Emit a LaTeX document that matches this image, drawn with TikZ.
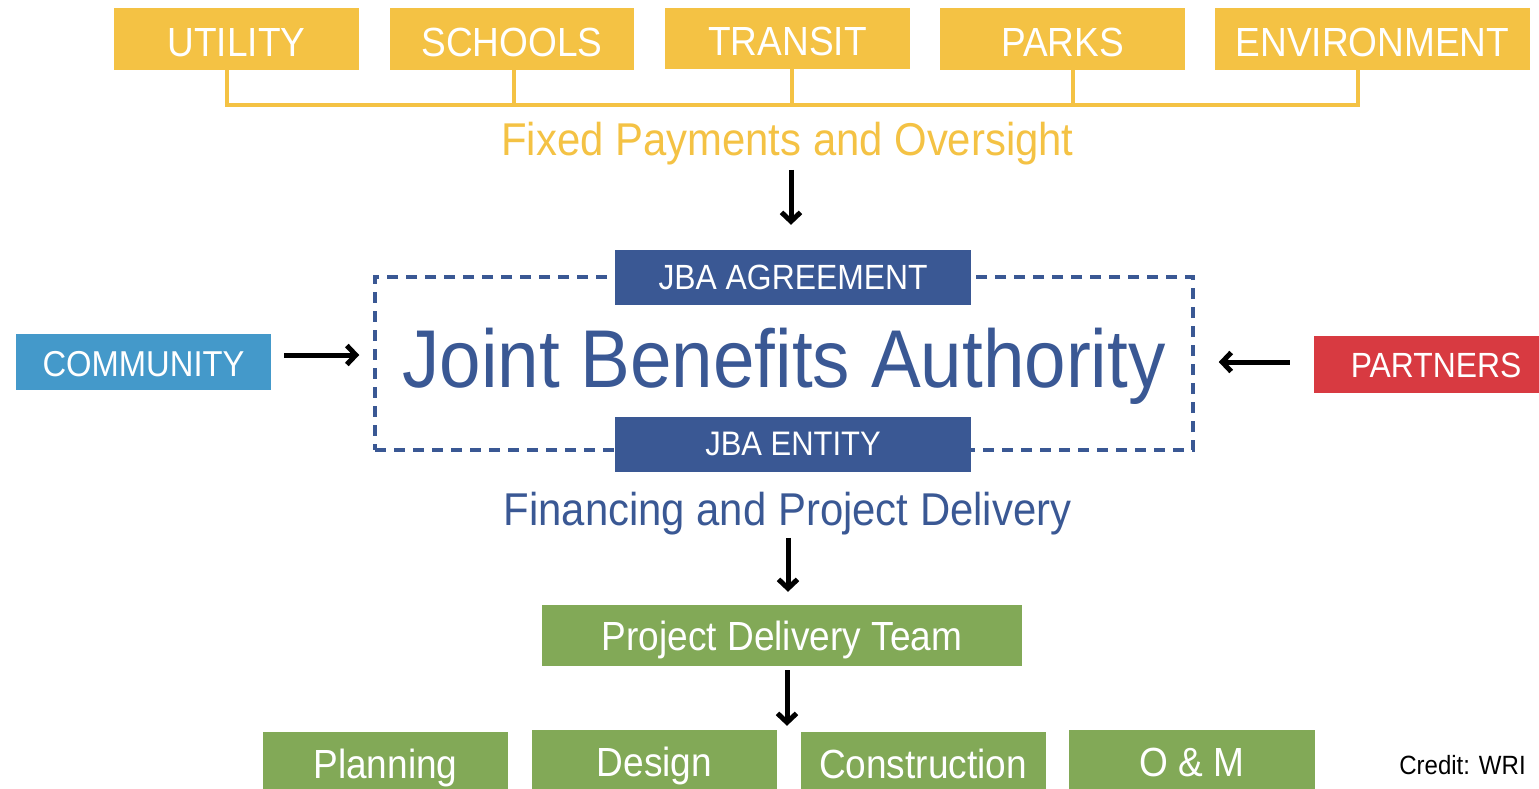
\documentclass[tikz,border=0pt]{standalone}
\usepackage{fontspec}
\setmainfont{Liberation Sans}[FakeStretch=0.91]
\usetikzlibrary{arrows.meta}
\definecolor{ylw}{HTML}{F4C244}
\definecolor{jblue}{HTML}{3A5894}
\definecolor{cblue}{HTML}{4499CA}
\definecolor{pred}{HTML}{D83A41}
\definecolor{grn}{HTML}{82A957}
\begin{document}
\begin{tikzpicture}[x=1pt,y=-1pt,
  box/.style={rectangle, inner sep=0pt, text=white, text depth=0pt, align=center},
  topbox/.style={box, fill=ylw, minimum width=245, minimum height=62, text height=34pt, font=\fontsize{40.7}{48}\selectfont},
  jbabox/.style={box, fill=jblue, minimum width=356, minimum height=55},
  sidebox/.style={box, minimum height=56},
  greenbox/.style={box, fill=grn, minimum width=245, minimum height=65, text height=27pt, font=\fontsize{40.7}{48}\selectfont},
  bracket/.style={draw=ylw, line width=3.5pt},
  arr/.style={-{Straight Barb[length=9pt,width=19pt]}, line width=5pt, black},
  caption/.style={inner sep=0pt, anchor=base, font=\fontsize{46}{55}\selectfont}
]
\useasboundingbox (0,0) rectangle (1539,788);
\clip (0,0) rectangle (1539,788);

% top boxes
\node[topbox] (u) at (236.5,39) {UTILITY};
\node[topbox, minimum width=244] (s) at (512,39) {SCHOOLS};
\node[topbox, minimum height=61] (t) at (787.5,38.5) {TRANSIT};
\node[topbox] (p) at (1062.5,39) {PARKS};
\node[topbox, minimum width=315] (e) at (1372.5,39) {ENVIRONMENT};

% bracket
\coordinate (bus) at (0,105);
\draw[bracket] ([xshift=-9.5]u.south) |- ([xshift=-14.5]e.south |- bus) -- ([xshift=-14.5]e.south);
\draw[bracket] ([xshift=2]s.south) -- ([xshift=2]s.south |- bus);
\draw[bracket] ([xshift=4.5]t.south) -- ([xshift=4.5]t.south |- bus);
\draw[bracket] ([xshift=10.5]p.south) -- ([xshift=10.5]p.south |- bus);

\node[caption, text=ylw] (fixed) at (787.5,155) {Fixed Payments and Oversight};

% JBA frame
\node[draw=jblue, line width=3.5pt, dash pattern=on 11pt off 8pt, inner sep=0pt,
      minimum width=818, minimum height=173, text=jblue,
      font=\fontsize{82}{98}\selectfont, text height=47pt, text depth=0pt] (jba) at (784,363.5) {Joint Benefits Authority};
\node[jbabox, text height=24pt, font=\fontsize{35}{42}\selectfont] (jbaag) at (793,277.5) {JBA AGREEMENT};
\node[jbabox, text height=22pt, font=\fontsize{34}{41}\selectfont] (jbaen) at (793,444.5) {JBA ENTITY};

\draw[arr, shorten <=5pt, shorten >=25pt] ([xshift=-2]jbaag.north |- fixed.south) -- ([xshift=-2]jbaag.north);

% side boxes
\node[sidebox, fill=cblue, minimum width=255, text height=28pt, font=\fontsize{36}{43}\selectfont] (comm) at (143.5,362) {COMMUNITY};
\node[sidebox, fill=pred, minimum width=236, minimum height=57, text height=26pt, font=\fontsize{35}{42}\selectfont] (part) at (1432,364.5) {\hspace*{8pt}PARTNERS};
\draw[arr, shorten <=13pt, shorten >=14pt] ([yshift=7]comm.east) -- ([yshift=7]comm.east -| jba.west);
\draw[arr, shorten <=24pt, shorten >=24pt] ([yshift=2.5]part.west) -- ([yshift=2.5]part.west -| jba.east);

% financing
\node[caption, text=jblue] (fin) at (787.5,525) {Financing and Project Delivery};
\node[greenbox, minimum width=480, minimum height=61, text height=30pt] (pdt) at (782,635.5) {Project Delivery Team};
\draw[arr, shorten <=3pt, shorten >=13pt] ([xshift=0.5]fin.south) -- ([xshift=0.5]fin.south |- pdt.north);

% bottom boxes
\node[greenbox] (plan) at (385.5,764.5) {Planning};
\node[greenbox] (des) at (654.5,762.5) {Design};
\node[greenbox] (con) at (923,764.5) {Construction};
\node[greenbox, minimum width=246] (om) at (1192,762.5) {O \& M};
\coordinate (split) at ([xshift=5]pdt.south |- des.north);
\draw[arr, shorten <=4pt, shorten >=4pt] ([xshift=5]pdt.south) -- (split);

\node[inner sep=0pt, anchor=base, font=\fontsize{26.4}{32}\selectfont] (credit) at (1462.5,774) {Credit: WRI};
\end{tikzpicture}
\end{document}
